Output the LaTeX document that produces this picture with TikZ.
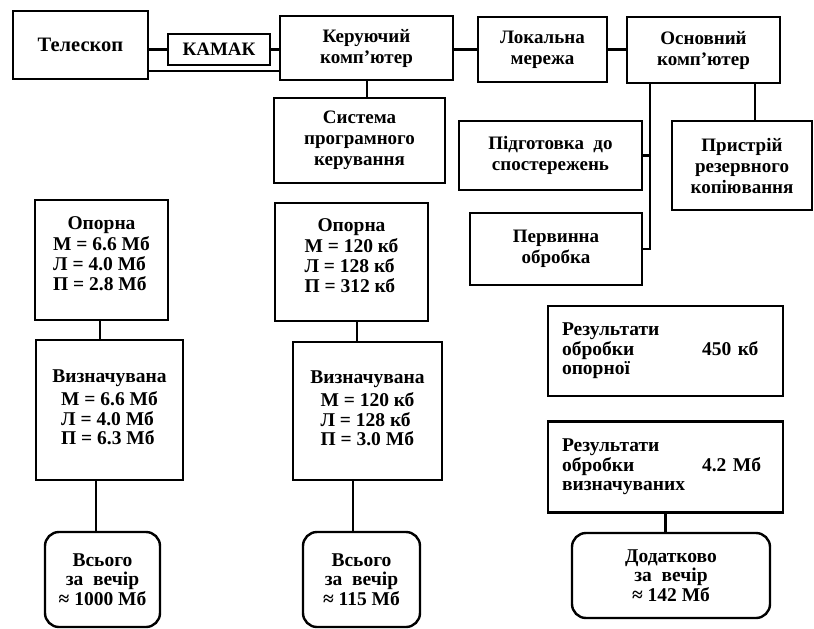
\documentclass[tikz,border=0pt]{standalone}
\usepackage{fontspec}
\setmainfont{Liberation Serif}
\newcommand\mytopfont{\fontsize{19}{21}\selectfont\bfseries}
\newcommand\mybotfont{\fontsize{19.5}{19.5}\selectfont\bfseries}
\begin{document}
\begin{tikzpicture}[x=1pt,y=-1pt,
  box/.style={draw, line width=2.4pt, align=center, inner sep=2pt, font=\mytopfont},
  bbox/.style={box, font=\mybotfont},
  rbox/.style={bbox, rounded corners=14pt},
  resbox/.style={bbox, align=left, inner xsep=14pt, text width=207pt},
  conn/.style={line width=2.2pt}]
\useasboundingbox (0,0) rectangle (814,629);
% top row
\node[box, minimum width=135pt, minimum height=68pt, font=\fontsize{20.5}{22}\selectfont\bfseries] (tel) at (80.5,45) {Телескоп};
\node[box, minimum width=102pt, minimum height=31pt] (kamak) at (219,49.5) {КАМАК};
\node[box, minimum width=173pt, minimum height=64pt] (keruy) at (366.5,48) {Керуючий\\комп’ютер};
\node[box, minimum width=129pt, minimum height=65pt] (lok) at (542.5,49.5) {Локальна\\мережа};
\node[box, minimum width=153pt, minimum height=66pt] (osn) at (703.5,50) {Основний\\комп’ютер};
\node[box, minimum width=171pt, minimum height=85pt] (sys) at (359.5,140.5) {Система\\програмного\\керування};
\node[box, minimum width=183pt, minimum height=69pt] (pidg) at (550.5,155.5) {Підготовка\ \ до\\спостережень};
\node[box, minimum width=172pt, minimum height=72pt] (perv) at (556,249) {Первинна\\обробка};
\node[box, minimum width=140pt, minimum height=89pt] (prystr) at (742,165.5) {Пристрій\\резервного\\копіювання};
% left column
\node[bbox, minimum width=133pt, minimum height=120pt] (op1) at (101.5,260)
  {Опорна\\[2pt]\begin{tabular}{@{}l@{}}М = 6.6 Мб\\Л = 4.0 Мб\\П = 2.8 Мб\end{tabular}\\[6pt]};
\node[bbox, minimum width=147pt, minimum height=140pt] (viz1) at (109.5,410)
  {Визначувана\\[4pt]\begin{tabular}{@{}l@{}}М = 6.6 Мб\\Л = 4.0 Мб\\П = 6.3 Мб\end{tabular}};
\node[rbox, minimum width=115pt, minimum height=95pt] (vs1) at (102.5,579.5)
  {Всього\\за\ \ вечір\\≈ 1000 Мб};
% middle column
\node[bbox, minimum width=153pt, minimum height=118pt] (op2) at (351.5,262)
  {Опорна\\[2pt]\begin{tabular}{@{}l@{}}М = 120 кб\\Л = 128 кб\\П = 312 кб\end{tabular}\\[6pt]};
\node[bbox, minimum width=149pt, minimum height=138pt] (viz2) at (367.5,411)
  {Визначувана\\[4pt]\begin{tabular}{@{}l@{}}М = 120 кб\\Л = 128 кб\\П = 3.0 Мб\end{tabular}};
\node[rbox, minimum width=117pt, minimum height=95pt] (vs2) at (361.5,579.5)
  {Всього\\за\ \ вечір\\≈ 115 Мб};
% right column
\node[resbox, minimum width=235pt, minimum height=90pt] (res1) at (665.5,351)
  {Результати\\\makebox[140pt][l]{обробки}450 кб\\опорної};
\node[resbox, minimum width=235pt, minimum height=91pt] (res2) at (665.5,467)
  {Результати\\\makebox[140pt][l]{обробки}4.2 Мб\\визначуваних};
\node[rbox, minimum width=198pt, minimum height=85pt] (dod) at (671,575.5)
  {Додатково\\за\ \ вечір\\≈ 142 Мб};
% connectors
\coordinate (low) at (0,71);
\coordinate (busx) at (650,0);
\coordinate (bx2) at (755,0);
\coordinate (sx) at (367,0);
\coordinate (c1) at (100,0);
\coordinate (c2) at (96,0);
\coordinate (c3) at (357,0);
\coordinate (c4) at (353,0);
\draw[conn] (tel.east |- kamak.west) -- (kamak.west);
\draw[conn] (kamak.east) -- (kamak.east -| keruy.west);
\draw[conn] (tel.east |- low) -- (keruy.west |- low);
\draw[conn] (keruy.east |- lok.west) -- (lok.west);
\draw[conn] (lok.east) -- (lok.east -| osn.west);
\draw[conn] (keruy.south -| sx) -- (sys.north -| sx);
\draw[conn] (osn.south -| busx) -- (busx |- perv.east) -- (perv.east);
\draw[conn] (busx |- pidg.east) -- (pidg.east);
\draw[conn] (osn.south -| bx2) -- (prystr.north -| bx2);
\draw[conn] (op1.south -| c1) -- (viz1.north -| c1);
\draw[conn] (viz1.south -| c2) -- (vs1.north -| c2);
\draw[conn] (op2.south -| c3) -- (viz2.north -| c3);
\draw[conn] (viz2.south -| c4) -- (vs2.north -| c4);
\draw[conn] (res2.south) -- (res2.south |- dod.north);
\end{tikzpicture}
\end{document}
